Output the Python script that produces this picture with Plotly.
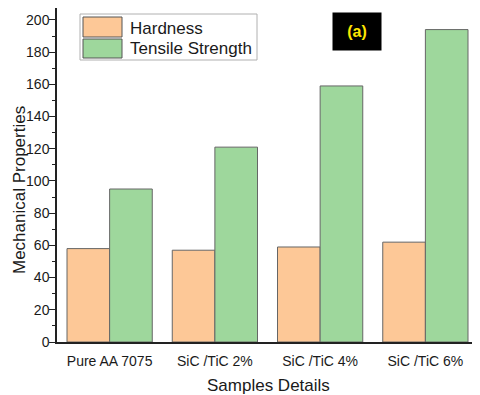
import plotly.graph_objects as go

samples = ["Pure AA 7075", "SiC /TiC 2%", "SiC /TiC 4%", "SiC /TiC 6%"]
hardness = [58, 57, 59, 62]
tensile = [95, 121, 159, 194]

colors = ["#FDC897", "#9ED79C"]
names = ["Hardness", "Tensile Strength"]

fig = go.Figure()
fig.add_trace(go.Bar(
    x=samples, y=hardness, name=names[0],
    marker=dict(color=colors[0], line=dict(color="#666666", width=1))
))
fig.add_trace(go.Bar(
    x=samples, y=tensile, name=names[1],
    marker=dict(color=colors[1], line=dict(color="#666666", width=1))
))

# the page body has an 8px margin, so the figure is sized to fit the window
W, H = 472, 387
ML, MR, MT, MB = 49, 2, 0, 53
pw, ph = W - ML - MR, H - MT - MB


def px(wx, wy):
    # window pixel -> paper coords
    return (wx - 8 - ML) / pw, 1 - (wy - 8 - MT) / ph


shapes = []
annotations = []

# hand-drawn legend with big swatches, like the original
x0, y0 = px(80, 60)
x1, y1 = px(257, 14)
shapes.append(dict(type="rect", xref="paper", yref="paper", x0=x0, y0=y0, x1=x1, y1=y1,
                   line=dict(color="#b0b0b0", width=1), fillcolor="white", layer="above"))
for i, (top, bot, mid) in enumerate([(17, 37, 28), (39, 58, 48)]):
    sx0, sy0 = px(83, bot)
    sx1, sy1 = px(122, top)
    shapes.append(dict(type="rect", xref="paper", yref="paper", x0=sx0, y0=sy0, x1=sx1, y1=sy1,
                       line=dict(color="#555555", width=1), fillcolor=colors[i], layer="above"))
    tx, ty = px(128, mid)
    annotations.append(dict(text=names[i], x=tx, y=ty, xref="paper", yref="paper",
                            xanchor="left", yanchor="middle", showarrow=False,
                            font=dict(size=17, color="#1a1a1a")))

ax, ay = px(357, 31.5)
annotations.append(dict(
    text="<b>(a)</b>", x=ax, y=ay, xref="paper", yref="paper",
    xanchor="center", yanchor="middle",
    showarrow=False, font=dict(color="#FFE600", size=16),
    bgcolor="black", width=46, height=35,
))

# axis titles
tx, ty = px(19, 190)
annotations.append(dict(text="Mechanical Properties", x=tx, y=ty, xref="paper", yref="paper",
                        xanchor="center", yanchor="middle", textangle=-90, showarrow=False,
                        font=dict(size=17, color="#1a1a1a")))
tx, ty = px(268, 385)
annotations.append(dict(text="Samples Details", x=tx, y=ty, xref="paper", yref="paper",
                        xanchor="center", yanchor="middle", showarrow=False,
                        font=dict(size=17, color="#1a1a1a")))

fig.update_layout(
    width=W, height=H,
    margin=dict(l=ML, r=MR, t=MT, b=MB),
    barmode="group", bargap=0.19, bargroupgap=0,
    plot_bgcolor="white", paper_bgcolor="white",
    font=dict(family="Liberation Sans, Arial", size=14, color="#1a1a1a"),
    showlegend=False,
    shapes=shapes,
    annotations=annotations,
)
fig.update_xaxes(
    showline=True, linecolor="#222222", linewidth=1.5,
    ticks="", range=[-0.5, 3.5], automargin=False,
    tickfont=dict(size=14), ticklabelstandoff=5,
)
fig.update_yaxes(
    range=[0, 207.4], dtick=20, showgrid=False, zeroline=False,
    showline=True, linecolor="#222222", linewidth=1.5,
    ticks="outside", ticklen=6, tickcolor="#222222", automargin=False,
    tickfont=dict(size=14), ticklabelstandoff=-3,
    minor=dict(dtick=10, ticks="outside", ticklen=3, tickcolor="#222222"),
)

fig.write_html("out.html")
